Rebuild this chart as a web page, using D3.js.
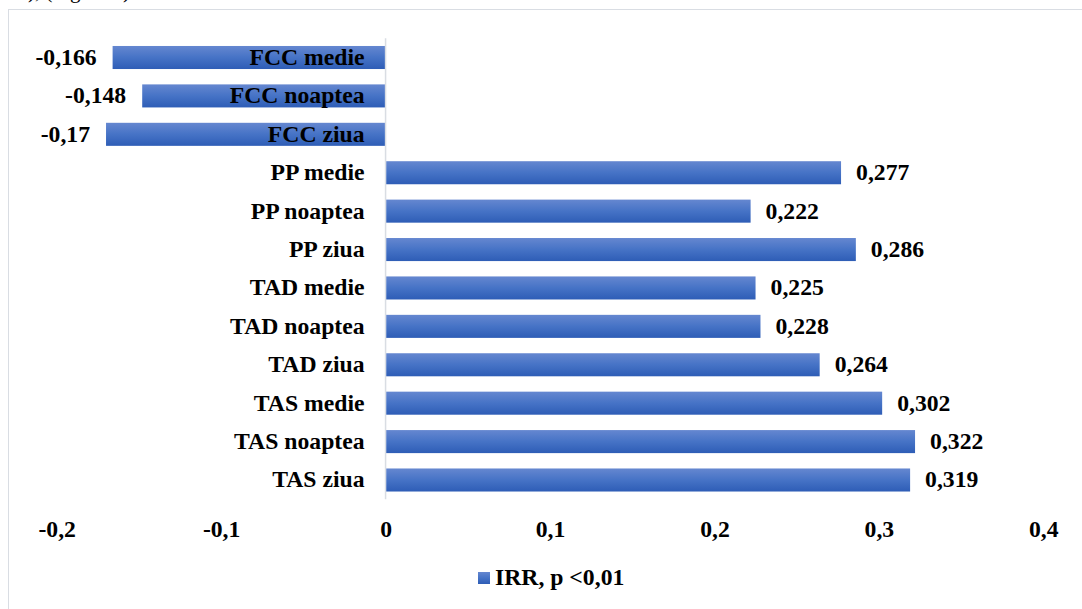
<!DOCTYPE html>
<html>
<head>
<meta charset="utf-8">
<script src="https://cdn.jsdelivr.net/npm/d3@7"></script>
<style>
  html, body { margin: 0; padding: 0; background: #ffffff; }
  svg { display: block; }
</style>
</head>
<body>
<svg id="chart" width="1082" height="609"></svg>
<script>
// ---- data ----
const categories = ["FCC medie", "FCC noaptea", "FCC ziua", "PP medie", "PP noaptea", "PP ziua",
                    "TAD medie", "TAD noaptea", "TAD ziua", "TAS medie", "TAS noaptea", "TAS ziua"];
const values = [-0.166, -0.148, -0.17, 0.277, 0.222, 0.286, 0.225, 0.228, 0.264, 0.302, 0.322, 0.319];
const valueLabels = ["-0,166", "-0,148", "-0,17", "0,277", "0,222", "0,286", "0,225", "0,228", "0,264", "0,302", "0,322", "0,319"];
const tickValues = [-0.2, -0.1, 0, 0.1, 0.2, 0.3, 0.4];
const tickLabels = ["-0,2", "-0,1", "0", "0,1", "0,2", "0,3", "0,4"];
const seriesName = "IRR, p <0,01";

const FONT = "Liberation Serif";
const svg = d3.select("#chart");
const fontSize = 23.7;

function styleText(sel) {
  return sel.attr("font-family", FONT).attr("font-weight", "bold")
    .attr("font-size", fontSize).attr("fill", "#000");
}

// gradient
const defs = svg.append("defs");
const grad = defs.append("linearGradient").attr("id", "barGrad")
  .attr("x1", 0).attr("y1", 0).attr("x2", 0).attr("y2", 1);
grad.append("stop").attr("offset", "0%").attr("stop-color", "#6587d0");
grad.append("stop").attr("offset", "50%").attr("stop-color", "#4673c6");
grad.append("stop").attr("offset", "100%").attr("stop-color", "#2e5db6");

// cut-off text from the page above the chart
svg.append("text").attr("x", 28).attr("y", -2)
  .attr("font-family", FONT).attr("font-size", 21).attr("fill", "#000")
  .text("), (Figura 6).");

// chart frame
svg.append("rect").attr("x", 8.5).attr("y", 9.5).attr("width", 1100).attr("height", 620)
  .attr("fill", "none").attr("stroke", "#d9dde3").attr("stroke-width", 1);

// scales
const x = d3.scaleLinear().domain([-0.2, 0.4]).range([56.7, 1043.3]);
const y = d3.scaleBand().domain(categories).range([38.3, 499.2]).paddingInner(0.4).paddingOuter(0.2);

// zero axis line
svg.append("line")
  .attr("x1", x(0)).attr("x2", x(0))
  .attr("y1", y.range()[0]).attr("y2", y.range()[1])
  .attr("stroke", "#d9dde3").attr("stroke-width", 1.5);

// bars
svg.append("g").selectAll("rect").data(values).join("rect")
  .attr("x", d => Math.min(x(0) + 0.7, x(d)))
  .attr("y", (d, i) => y(categories[i]))
  .attr("width", d => Math.abs(x(d) - x(0)) - 0.7)
  .attr("height", y.bandwidth())
  .attr("fill", "url(#barGrad)");

// category labels (next to axis)
svg.append("g").selectAll("text").data(categories).join("text")
  .attr("x", x(0) - 21)
  .attr("y", d => y(d) + y.bandwidth() / 2 + 7.5)
  .attr("text-anchor", "end")
  .call(styleText)
  .text(d => d);

// value labels
svg.append("g").selectAll("text").data(values).join("text")
  .attr("x", d => d >= 0 ? x(d) + 15 : x(d) - 16)
  .attr("y", (d, i) => y(categories[i]) + y.bandwidth() / 2 + 7.5)
  .attr("text-anchor", d => d >= 0 ? "start" : "end")
  .call(styleText)
  .text((d, i) => valueLabels[i]);

// x axis tick labels
const xAxis = d3.axisBottom(x).tickValues(tickValues)
  .tickFormat((d, i) => tickLabels[i]).tickSize(0).tickPadding(0);
const gx = svg.append("g").attr("transform", "translate(0,520)").call(xAxis);
gx.attr("font-family", FONT).attr("font-size", fontSize).attr("font-weight", "bold");
gx.select(".domain").remove();
gx.selectAll("text")
  .attr("dy", null).attr("y", 17)
  .call(styleText);

// legend
const lg = svg.append("g").attr("transform", "translate(478,572)");
lg.append("rect").attr("width", 12).attr("height", 12).attr("fill", "url(#barGrad)");
lg.append("text").attr("x", 17).attr("y", 13)
  .call(styleText).text(seriesName);
</script>
</body>
</html>
